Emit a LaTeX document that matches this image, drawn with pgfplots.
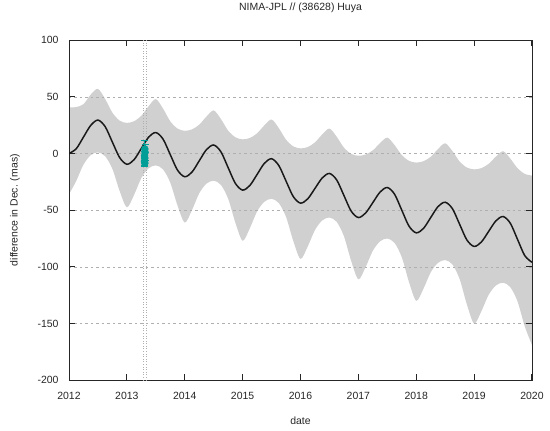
\documentclass[border=0pt]{standalone}
\usepackage{pgfplots}
\pgfplotsset{compat=1.18}
\usepgfplotslibrary{fillbetween}
\usepackage{fontspec}
\setmainfont{Liberation Sans}
\definecolor{bandgray}{RGB}{208,208,208}
\definecolor{obsteal}{RGB}{0,158,150}
\definecolor{gridgray}{RGB}{175,175,175}
\begin{document}
\begin{tikzpicture}
\begin{axis}[
  set layers,
  scale only axis, width=463bp, height=340bp,
  xmin=2012, xmax=2020, ymin=-200, ymax=100,
  xtick={2012,2013,...,2020}, ytick={-200,-150,...,100},
  tick align=inside, major tick length=6bp,
  /pgf/number format/assume math mode=true,
  /pgf/number format/1000 sep={},
  ymajorgrids, grid style={dash pattern=on 2.5pt off 3pt, gridgray, line width=0.6pt},
  axis line style={line width=1pt, black!85},
  tick style={line width=1pt, black!85},
  ticklabel style={font=\fontsize{10.5}{12}\selectfont, text=black!85},
  xticklabel style={yshift=-9bp},
  yticklabel style={xshift=-7bp},
  title={NIMA-JPL // (38628) Huya},
  title style={at={(axis description cs:0.5,1)}, anchor=center, yshift=26bp, font=\fontsize{10.5}{12}\selectfont, text=black!85},
  xlabel={date},
  xlabel style={at={(axis description cs:0.5,0)}, anchor=center, yshift=-41bp, font=\fontsize{10.5}{12}\selectfont, text=black!85},
  ylabel={difference in Dec. (mas)},
  ylabel style={at={(axis description cs:0,0.5)}, anchor=center, yshift=54bp, font=\fontsize{10.5}{12}\selectfont, text=black!85},
]
\addplot[name path=U, draw=none, smooth, forget plot] coordinates {
(2012.000,40.6) (2012.125,41) (2012.250,43.5) (2012.375,52) (2012.500,57)
(2012.625,48) (2012.750,36) (2012.875,29) (2013.000,27)
(2013.125,28.5) (2013.250,33.3) (2013.375,41.7) (2013.500,48)
(2013.625,39.6) (2013.750,28.4) (2013.875,22) (2014.000,20)
(2014.125,21.3) (2014.250,25.4) (2014.375,32.6) (2014.500,38)
(2014.625,30.4) (2014.750,20.2) (2014.875,14.3) (2015.000,12.5)
(2015.125,13.7) (2015.250,17.8) (2015.375,24.8) (2015.500,30)
(2015.625,22.4) (2015.750,12.2) (2015.875,6.3) (2016.000,4.5)
(2016.125,5.7) (2016.250,9.8) (2016.375,16.8) (2016.500,22)
(2016.625,14.8) (2016.750,5.2) (2016.875,-0.3) (2017.000,-2)
(2017.125,-0.9) (2017.250,2.8) (2017.375,9.2) (2017.500,14)
(2017.625,7.4) (2017.750,-1.4) (2017.875,-6.5) (2018.000,-8)
(2018.125,-6.8) (2018.250,-2.9) (2018.375,3.9) (2018.500,9)
(2018.625,2.1) (2018.750,-7.1) (2018.875,-12.4) (2019.000,-14)
(2019.125,-12.9) (2019.250,-9.2) (2019.375,-2.8) (2019.500,2)
(2019.625,-4.5) (2019.750,-13) (2019.875,-18) (2020.000,-19.5)
};
\addplot[name path=L, draw=none, smooth, forget plot] coordinates {
(2012.000,-36) (2012.125,-24.2) (2012.250,-9.8) (2012.375,-1.5) (2012.500,1)
(2012.625,-2.4) (2012.750,-13.6) (2012.875,-33) (2013.000,-47.5)
(2013.125,-36.4) (2013.250,-21.6) (2013.375,-13.1) (2013.500,-10.5)
(2013.625,-14) (2013.750,-25.7) (2013.875,-45.9) (2014.000,-61)
(2014.125,-49.9) (2014.250,-35.1) (2014.375,-26.6) (2014.500,-24)
(2014.625,-27.7) (2014.750,-39.9) (2014.875,-61.1) (2015.000,-77)
(2015.125,-65.9) (2015.250,-51.1) (2015.375,-42.6) (2015.500,-40)
(2015.625,-43.7) (2015.750,-55.9) (2015.875,-77.1) (2016.000,-93)
(2016.125,-82) (2016.250,-67.5) (2016.375,-59.1) (2016.500,-56.5)
(2016.625,-60.3) (2016.750,-72.9) (2016.875,-94.7) (2017.000,-111)
(2017.125,-100.2) (2017.250,-85.8) (2017.375,-77.5) (2017.500,-75)
(2017.625,-78.9) (2017.750,-91.5) (2017.875,-113.5) (2018.000,-130)
(2018.125,-119.2) (2018.250,-104.8) (2018.375,-96.5) (2018.500,-94)
(2018.625,-97.9) (2018.750,-110.8) (2018.875,-133.2) (2019.000,-150)
(2019.125,-139.2) (2019.250,-124.8) (2019.375,-116.5) (2019.500,-114)
(2019.625,-117.9) (2019.750,-130.5) (2019.875,-152.5) (2020.000,-169)
};
\addplot[fill=bandgray, draw=none, forget plot] fill between[of=U and L, on layer=axis background];
% vertical dotted markers
\addplot[gridgray, dotted, line width=0.6pt, forget plot] coordinates {(2013.28,-200) (2013.28,100)};
\addplot[gridgray, dotted, line width=0.6pt, forget plot] coordinates {(2013.34,-200) (2013.34,100)};
% model curve
\addplot[black!90, line width=1.5pt, smooth] coordinates {
(2012.000,0) (2012.125,4.2) (2012.250,14.5) (2012.375,24.8) (2012.500,29.5)
(2012.625,23.7) (2012.750,10) (2012.875,-3.6) (2013.000,-9.5)
(2013.125,-5.4) (2013.250,4.5) (2013.375,14.4) (2013.500,18.5)
(2013.625,12.7) (2013.750,-1) (2013.875,-14.7) (2014.000,-20.5)
(2014.125,-16.4) (2014.250,-6.5) (2014.375,3.4) (2014.500,7.5)
(2014.625,1.5) (2014.750,-12.5) (2014.875,-26.4) (2015.000,-32.3)
(2015.125,-28.2) (2015.250,-18.5) (2015.375,-8.7) (2015.500,-4.6)
(2015.625,-10.6) (2015.750,-24.3) (2015.875,-38) (2016.000,-43.8)
(2016.125,-40) (2016.250,-30.8) (2016.375,-21.6) (2016.500,-17.6)
(2016.625,-23.3) (2016.750,-37) (2016.875,-50.8) (2017.000,-56.5)
(2017.125,-52.5) (2017.250,-43.3) (2017.375,-34) (2017.500,-30)
(2017.625,-35.9) (2017.750,-50) (2017.875,-64.1) (2018.000,-70)
(2018.125,-66.1) (2018.250,-56.5) (2018.375,-46.9) (2018.500,-43)
(2018.625,-48.7) (2018.750,-62.5) (2018.875,-76.3) (2019.000,-82)
(2019.125,-78.1) (2019.250,-68.8) (2019.375,-59.5) (2019.500,-55.6)
(2019.625,-61.5) (2019.750,-75.8) (2019.875,-90.1) (2020.000,-96)
};
% observations
\addplot[obsteal, only marks, mark=*, mark size=3.5bp,
  error bars/.cd, y dir=both, y explicit,
  error bar style={obsteal, line width=0.8pt}, error mark options={obsteal, rotate=90, mark size=3.5bp}]
  coordinates {
  (2013.310,4) +- (0,8)
  (2013.315,1) +- (0,7)
  (2013.305,-2) +- (0,6)
  (2013.310,-4) +- (0,6)
  (2013.305,-7) +- (0,4.5)
  (2013.310,-8.5) +- (0,3)
};
\end{axis}
\path (current axis.south west) ++(-69bp,-50bp) rectangle ++(550bp,430bp);
\end{tikzpicture}
\end{document}
